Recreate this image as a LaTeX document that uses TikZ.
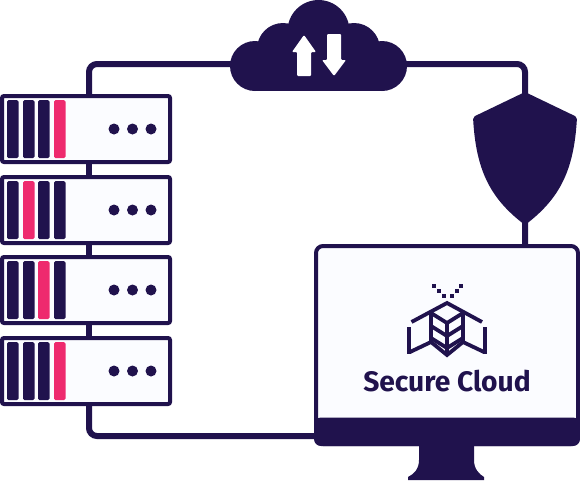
\documentclass[tikz,border=0pt]{standalone}
\usepackage{fontspec}
\setmainfont{Fira Sans}
\usepackage{xcolor}
\definecolor{scnavy}{RGB}{32,18,77}
\definecolor{scpink}{RGB}{238,42,110}
\definecolor{scpaper}{RGB}{251,252,255}
\usetikzlibrary{arrows.meta,positioning,calc}

\begin{document}
\begin{tikzpicture}[
  x=1pt,y=-1pt,
  every node/.style={font=\small},
  wire/.style={draw=scnavy,line width=6pt,rounded corners=8pt},
  srvbox/.style={draw=scnavy,fill=scpaper,line width=4pt,rounded corners=2pt,minimum width=168pt,minimum height=66pt,inner sep=0pt},
  bar/.style={fill=scnavy,rounded corners=1.5pt},
  hotbar/.style={fill=scpink,rounded corners=1.5pt},
  logoline/.style={draw=scnavy,line width=3.8pt,line join=miter},
]
  \useasboundingbox (0,0) rectangle (580,480);
  % anchors
  \coordinate (cloud) at (319,64);
  \coordinate (shield) at (525,160);
  \coordinate (top) at (89,96);
  \coordinate (bottom) at (89,436);
  % Monitor
  \node[draw=scnavy,fill=scpaper,line width=4pt,rounded corners=7pt,minimum width=262pt,minimum height=198pt,inner sep=0pt] (screen) at (447,345) {};
  % Wires
  \draw[wire] (top) -- (top |- cloud) -- (cloud) -- (shield |- cloud) -- (shield) -- (shield |- screen.north);
  \draw[wire] (89,380) -- (bottom) -- (screen.west |- bottom);
  \draw[scnavy,line width=6pt] (top) -- (89,380);
  % Servers
  \foreach \name/\y/\hot in {srv1/129/4,srv2/210/2,srv3/290/3,srv4/371/4}{
    \node[srvbox] (\name) at (86,\y) {};
    \foreach \i/\bx in {1/7,2/23,3/38,4/54}{
      \ifnum\i=\hot
        \path[hotbar] (\bx,\y-29) rectangle (\bx+11.5,\y+29);
      \else
        \path[bar] (\bx,\y-29) rectangle (\bx+11.5,\y+29);
      \fi
    }
    \foreach \dx in {114,132.5,151}{
      \fill[scnavy] (\dx,\y) circle (5.5);
    }
  }
  % Bezel
  \fill[scnavy,rounded corners=7pt] (314,417.5) rectangle (580,446);
  \fill[scnavy] (314,417.5) rectangle (580,430);
  \fill[scnavy] (419,440) -- (474,440) -- (474,460) .. controls (474,469) and (479,474) .. (484,477) -- (484,480) -- (408,480) -- (408,477) .. controls (414,474) and (419,469) .. (419,460) -- cycle;
  % Cloud
  \fill[scnavy] (255,66) circle (25);
  \fill[scnavy] (283,49) circle (26);
  \fill[scnavy] (318.5,31) circle (31);
  \fill[scnavy] (354,49) circle (26);
  \fill[scnavy] (382,66) circle (25);
  \fill[scnavy] (255,50) rectangle (382,91);
  \fill[white,rounded corners=1pt] (297,76) -- (297,52) -- (292,52) -- (304,35) -- (316,52) -- (311,52) -- (311,76) -- cycle;
  \fill[white,rounded corners=1pt] (327,34) -- (341,34) -- (341,60) -- (346,60) -- (334,76) -- (322,60) -- (327,60) -- cycle;
  % Shield
  \fill[scnavy,rounded corners=2pt] (525,92) -- (577,117) .. controls (574,170) and (560,198) .. (525,225) .. controls (490,198) and (476,170) .. (473,117) -- cycle;
  % Logo
  \foreach \px/\py in {431.5/284, 436.5/289, 441.5/293.5, 449.5/293.5, 454.5/289, 459/284}{
    \fill[scnavy] (\px,\py) rectangle ++(4,4);
  }
  \draw[logoline] (411.5,322) -- (447,303) -- (482,322);
  \draw[logoline] (431,313) -- (447,323) -- (463,313);
  \draw[logoline] (431,313) -- (431,342) -- (447,355) -- (463,342) -- (463,313);
  \draw[logoline] (447,323) -- (447,355);
  \draw[logoline] (431,326) -- (447,336) -- (463,326);
  \draw[logoline] (431,338) -- (447,348) -- (463,338);
  \draw[logoline] (409,327) -- (409,354);
  \draw[logoline] (485,327) -- (485,354);
  \draw[logoline] (410,352) -- (431,342);
  \draw[logoline] (463,342) -- (484,352);
  % Title
  \node[text=scnavy,font=\fontsize{28.2}{30}\selectfont\bfseries,anchor=base,inner sep=0pt] (title) at (447,391) {Secure Cloud};
\end{tikzpicture}
\end{document}
